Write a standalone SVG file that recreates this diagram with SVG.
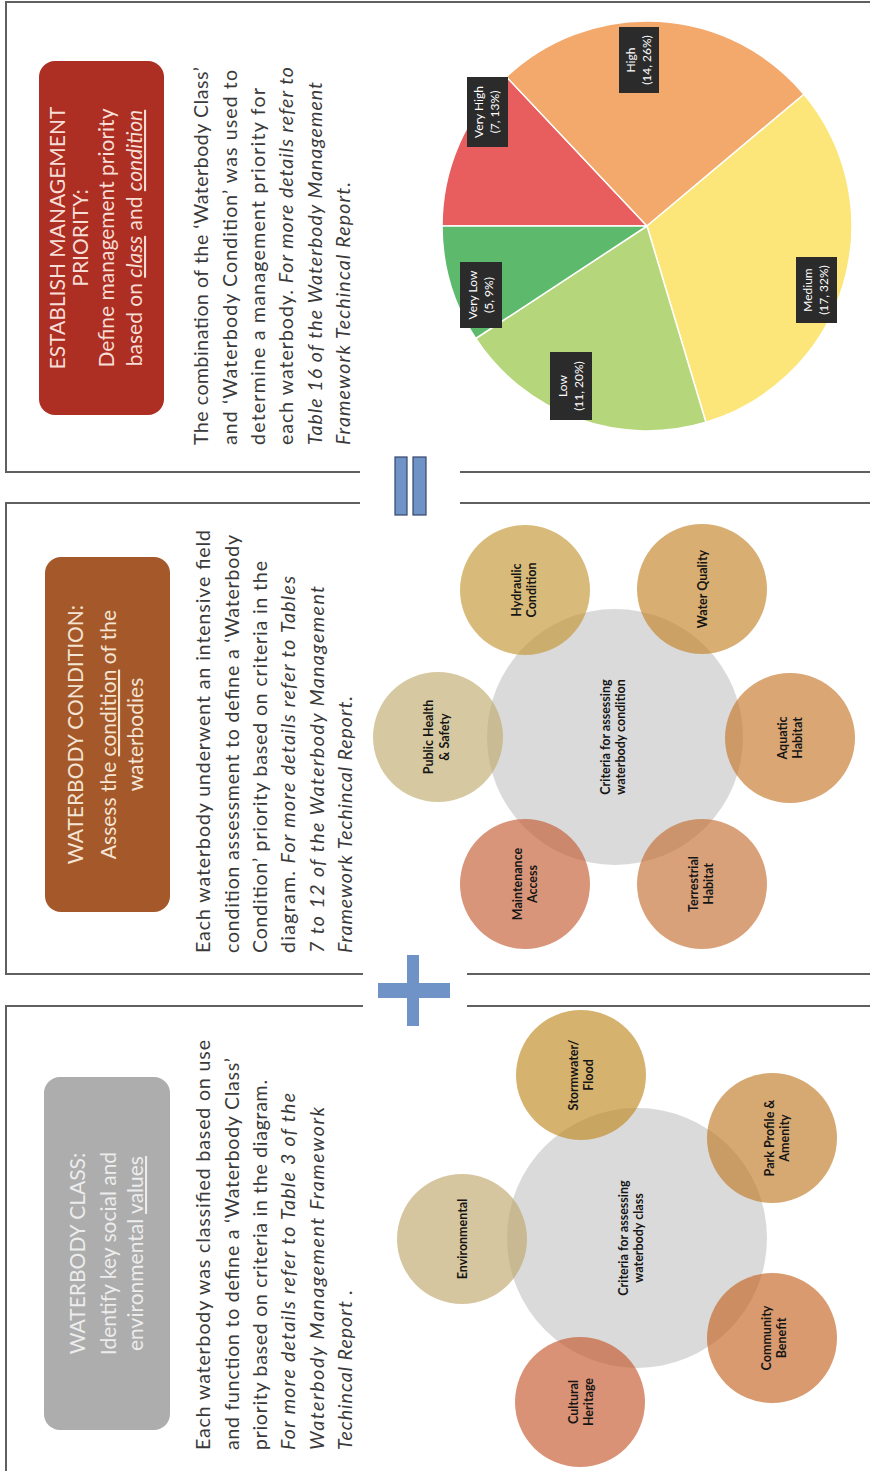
<svg xmlns="http://www.w3.org/2000/svg" width="870" height="1471" viewBox="0 0 870 1471">
<style>
  .frame{fill:none;stroke:#606060;stroke-width:2}
  .body{font-family:Lato,"Liberation Sans",sans-serif;font-size:19.5px;fill:#3a3a3a}
  .it{font-style:italic}
  .head{font-family:Lato,"Liberation Sans",sans-serif;font-size:21px;text-anchor:middle}
  .ul{text-decoration:underline}
  .hub{fill:#dadada}
  .sat{fill-opacity:0.65}
  .lbl{font-family:Lato,"Liberation Sans",sans-serif;font-size:12.5px;font-weight:bold;fill:#151515;text-anchor:middle}
  .tag rect{fill:#2b2b2b}
  .tag text{font-family:Lato,"Liberation Sans",sans-serif;font-size:12px;fill:#ffffff;text-anchor:middle}
  .op{fill:#6f93c7}
  .slice{stroke:#ffffff;stroke-width:1.5;stroke-linejoin:round}
</style>
<rect width="870" height="1471" fill="#ffffff"/>
<!-- whole layout is drawn in landscape and turned a quarter turn -->
<g transform="translate(0,1471) rotate(-90)">

  <!-- panel frames -->
  <g id="frames" class="frame">
    <path d="M-5 6 H465 V363 M465 467 V875"/>
    <path d="M497 363 V6 H968 V360 M968 460 V875 M497 467 V875"/>
    <path d="M999 360 V6 H1469 V875 M999 460 V875"/>
  </g>

  <!-- operators between panels -->
  <g id="connectors">
    <g id="plus" class="op">
      <rect x="473" y="378" width="15" height="72"/>
      <rect x="445" y="407" width="71" height="12"/>
    </g>
    <g id="equals" class="op" stroke="#34476a" stroke-width="1.2">
      <rect x="956" y="395" width="58" height="12"/>
      <rect x="956" y="413" width="58" height="13"/>
    </g>
  </g>

  <!-- ===== Panel 1 : waterbody class ===== -->
  <g id="class-header">
    <rect x="41" y="44" width="353" height="126" rx="16" fill="#adadad"/>
    <g class="head" fill="#ececec">
      <text x="217.5" y="85">WATERBODY CLASS:</text>
      <text x="217.5" y="116">Identify key social and</text>
      <text x="217.5" y="143">environmental <tspan class="ul">values</tspan></text>
    </g>
  </g>
  <g id="class-text" class="body">
    <text x="21" y="210" textLength="410">Each waterbody was classified based on use</text>
    <text x="21" y="238.5" textLength="392">and function to define a ‘Waterbody Class’</text>
    <text x="21" y="267" textLength="370">priority based on criteria in the diagram.</text>
    <text x="21" y="295" textLength="357" class="it">For more details refer to Table 3 of the</text>
    <text x="21" y="323.5" textLength="343" class="it">Waterbody Management Framework</text>
    <text x="21" y="352" textLength="160" class="it">Techincal Report .</text>
  </g>

  <g id="class-hub">
    <circle class="hub" cx="233" cy="637" r="130"/>
    <text class="lbl" x="233" y="628">Criteria for assessing</text>
    <text class="lbl" x="233" y="643">waterbody class</text>
  </g>
  <g id="stormwater">
    <circle class="sat" cx="396" cy="581" r="65" fill="#c08922"/>
    <text class="lbl" x="396" y="578">Stormwater/</text>
    <text class="lbl" x="396" y="593">Flood</text>
  </g>
  <g id="park-profile">
    <circle class="sat" cx="333" cy="772" r="65" fill="#c07926"/>
    <text class="lbl" x="333" y="774">Park Profile &amp;</text>
    <text class="lbl" x="333" y="789">Amenity</text>
  </g>
  <g id="community">
    <circle class="sat" cx="133" cy="772" r="65" fill="#c36420"/>
    <text class="lbl" x="133" y="771">Community</text>
    <text class="lbl" x="133" y="786">Benefit</text>
  </g>
  <g id="cultural">
    <circle class="sat" cx="69" cy="580" r="65" fill="#c4572c"/>
    <text class="lbl" x="69" y="578">Cultural</text>
    <text class="lbl" x="69" y="593">Heritage</text>
  </g>
  <g id="environmental">
    <circle class="sat" cx="232" cy="462" r="65" fill="#c0a76d"/>
    <text class="lbl" x="232" y="467">Environmental</text>
  </g>

  <!-- ===== Panel 2 : waterbody condition ===== -->
  <g id="condition-header">
    <rect x="559" y="45" width="355" height="125" rx="16" fill="#a5592a"/>
    <g class="head" fill="#f4e4d4">
      <text x="736.5" y="83">WATERBODY CONDITION:</text>
      <text x="736.5" y="116">Assess the <tspan class="ul">condition</tspan> of the</text>
      <text x="736.5" y="143">waterbodies</text>
    </g>
  </g>
  <g id="condition-text" class="body">
    <text x="518" y="210" textLength="423">Each waterbody underwent an intensive field</text>
    <text x="518" y="238.5" textLength="418">condition assessment to define a ‘Waterbody</text>
    <text x="518" y="267" textLength="392">Condition’ priority based on criteria in the</text>
    <text x="518" y="295" textLength="377">diagram. <tspan class="it">For more details refer to Tables</tspan></text>
    <text x="518" y="323.5" textLength="367" class="it">7 to 12 of the Waterbody Management</text>
    <text x="518" y="352" textLength="257" class="it">Framework Techincal Report.</text>
  </g>

  <g id="condition-hub">
    <circle class="hub" cx="734" cy="615" r="128"/>
    <text class="lbl" x="734" y="610">Criteria for assessing</text>
    <text class="lbl" x="734" y="625">waterbody condition</text>
  </g>
  <g id="hydraulic">
    <circle class="sat" cx="881" cy="525" r="65" fill="#c39632"/>
    <text class="lbl" x="881" y="521">Hydraulic</text>
    <text class="lbl" x="881" y="536">Condition</text>
  </g>
  <g id="water-quality">
    <circle class="sat" cx="882" cy="702" r="65" fill="#c38226"/>
    <text class="lbl" x="882" y="707">Water Quality</text>
  </g>
  <g id="aquatic">
    <circle class="sat" cx="733" cy="790" r="65" fill="#c47629"/>
    <text class="lbl" x="733" y="787">Aquatic</text>
    <text class="lbl" x="733" y="802">Habitat</text>
  </g>
  <g id="terrestrial">
    <circle class="sat" cx="587" cy="702" r="65" fill="#c46e32"/>
    <text class="lbl" x="587" y="698">Terrestrial</text>
    <text class="lbl" x="587" y="713">Habitat</text>
  </g>
  <g id="maintenance">
    <circle class="sat" cx="587" cy="525" r="65" fill="#c35c32"/>
    <text class="lbl" x="587" y="522">Maintenance</text>
    <text class="lbl" x="587" y="537">Access</text>
  </g>
  <g id="public-health">
    <circle class="sat" cx="734" cy="438" r="65" fill="#c0aa6d"/>
    <text class="lbl" x="734" y="433">Public Health</text>
    <text class="lbl" x="734" y="449">&amp; Safety</text>
  </g>

  <!-- ===== Panel 3 : management priority ===== -->
  <g id="priority-header">
    <rect x="1056" y="39" width="354" height="125" rx="16" fill="#ad2e22"/>
    <g class="head" fill="#f6ddd5">
      <text x="1233" y="65">ESTABLISH MANAGEMENT</text>
      <text x="1233" y="88">PRIORITY:</text>
      <text x="1233" y="114">Define management priority</text>
      <text x="1233" y="142">based on <tspan class="ul it">class</tspan> and <tspan class="ul it">condition</tspan></text>
    </g>
  </g>
  <g id="priority-text" class="body">
    <text x="1026" y="208" textLength="378">The combination of the ‘Waterbody Class’</text>
    <text x="1026" y="236.5" textLength="375">and ‘Waterbody Condition’ was used to</text>
    <text x="1026" y="265" textLength="357">determine a management priority for</text>
    <text x="1026" y="293" textLength="378">each waterbody. <tspan class="it">For more details refer to</tspan></text>
    <text x="1026" y="321.5" textLength="363" class="it">Table 16 of the Waterbody Management</text>
    <text x="1026" y="350" textLength="263" class="it">Framework Techincal Report.</text>
  </g>

  <g id="priority-pie">
    <path class="slice" fill="#e85d5e" d="M1245 647 L1245 442 A205 205 0 0 1 1394.2 506.4 Z"/>
    <path class="slice" fill="#f3a86c" d="M1245 647 L1394.2 506.4 A205 205 0 0 1 1376.8 804 Z"/>
    <path class="slice" fill="#fce67a" d="M1245 647 L1376.8 804 A205 205 0 0 1 1048.7 705.9 Z"/>
    <path class="slice" fill="#b6d67b" d="M1245 647 L1048.7 705.9 A205 205 0 0 1 1132.5 475.7 Z"/>
    <path class="slice" fill="#5db96c" d="M1245 647 L1132.5 475.7 A205 205 0 0 1 1245 442 Z"/>
  </g>
  <g id="tag-very-high" class="tag">
    <rect x="1324" y="467" width="70" height="41"/>
    <text x="1359" y="483">Very High</text>
    <text x="1359" y="499">(7, 13%)</text>
  </g>
  <g id="tag-high" class="tag">
    <rect x="1378" y="619" width="66" height="40"/>
    <text x="1411" y="635">High</text>
    <text x="1411" y="651">(14, 26%)</text>
  </g>
  <g id="tag-medium" class="tag">
    <rect x="1148" y="796" width="66" height="41"/>
    <text x="1181" y="812">Medium</text>
    <text x="1181" y="828">(17, 32%)</text>
  </g>
  <g id="tag-low" class="tag">
    <rect x="1051" y="550" width="68" height="42"/>
    <text x="1085" y="567">Low</text>
    <text x="1085" y="583">(11, 20%)</text>
  </g>
  <g id="tag-very-low" class="tag">
    <rect x="1143" y="460" width="66" height="42"/>
    <text x="1176" y="477">Very Low</text>
    <text x="1176" y="493">(5, 9%)</text>
  </g>
</g>
</svg>
